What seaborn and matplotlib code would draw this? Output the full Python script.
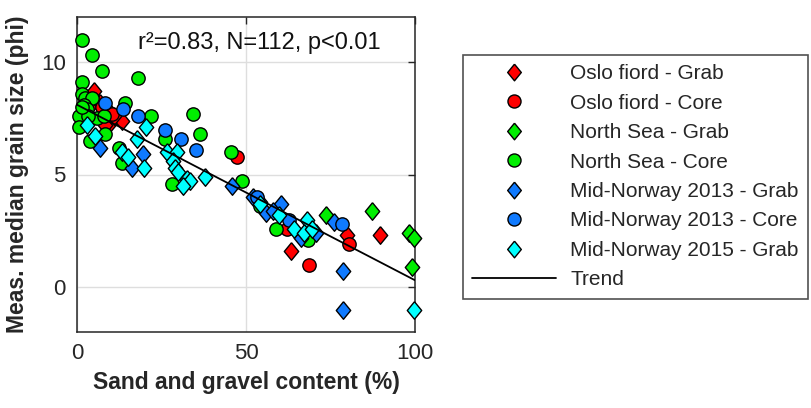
import numpy as np
import pandas as pd
import matplotlib
matplotlib.use("Agg")
import matplotlib.pyplot as plt
from matplotlib.lines import Line2D
import seaborn as sns

# ---- data ----
oslo_grab_x = [5.0, 6.8, 8.8, 9.7, 8.3, 13.2, 11.0, 3.5, 63.4, 80.0, 89.7]
oslo_grab_y = [8.7, 8.2, 7.9, 7.3, 7.2, 7.4, 7.6, 8.0, 1.6, 2.3, 2.3]
oslo_core_x = [7.5, 10.5, 47.2, 62.2, 68.7, 80.5]
oslo_core_y = [8.0, 7.7, 5.8, 2.6, 1.0, 1.9]
ns_grab_x = [73.7, 87.3, 98.2, 99.7, 99.1]
ns_grab_y = [3.2, 3.4, 2.4, 2.2, 0.9]
ns_core_x = [1.4, 4.4, 7.3, 18.0, 1.5, 1.4, 2.4, 4.4, 2.0, 2.9, 0.5, 3.8, 5.9, 0.5,
             8.3, 14.1, 22.0, 34.2, 36.3, 26.0, 12.4, 13.3, 28.0, 45.7, 48.7, 54.0,
             59.0, 68.4, 3.2, 1.5, 3.8, 8.0]
ns_core_y = [11.0, 10.3, 9.6, 9.3, 9.1, 8.6, 8.4, 8.4, 8.1, 7.9, 7.6, 7.5, 7.5, 7.1,
             6.8, 8.2, 7.6, 7.7, 6.8, 6.6, 6.2, 5.5, 4.6, 6.0, 4.7, 3.6,
             2.6, 2.1, 7.6, 8.0, 6.5, 7.6]
mn13_grab_x = [6.8, 19.5, 16.2, 46.0, 52.0, 60.5, 56.0, 66.4, 70.8, 76.0, 78.8, 78.8, 54.0, 58.0]
mn13_grab_y = [6.2, 5.9, 5.3, 4.5, 4.0, 3.7, 3.3, 2.2, 2.4, 2.9, 0.7, -1.0, 3.8, 3.4]
mn13_core_x = [8.3, 13.6, 18.0, 26.0, 30.7, 35.1, 53.4, 62.8, 78.5]
mn13_core_y = [8.2, 7.9, 7.6, 7.0, 6.6, 6.1, 4.0, 3.0, 2.8]
mn15_grab_x = [2.9, 5.3, 20.4, 17.7, 13.3, 15.0, 19.8, 26.5, 29.5, 28.3, 28.9, 29.8,
               32.4, 33.3, 31.3, 37.8, 54.0, 59.9, 64.3, 68.1, 67.3, 69.6, 99.7]
mn15_grab_y = [7.2, 6.7, 7.1, 6.6, 6.0, 5.8, 5.3, 6.0, 6.0, 5.6, 5.3, 5.1,
               4.8, 4.7, 4.5, 4.9, 3.7, 3.2, 2.6, 3.0, 2.4, 2.6, -1.0]
trend_x = [0, 100]
trend_y = [8.1, 0.3]

labels = ["Oslo fiord - Grab", "Oslo fiord - Core", "North Sea - Grab", "North Sea - Core",
          "Mid-Norway 2013 - Grab", "Mid-Norway 2013 - Core", "Mid-Norway 2015 - Grab"]
xs = [oslo_grab_x, oslo_core_x, ns_grab_x, ns_core_x, mn13_grab_x, mn13_core_x, mn15_grab_x]
ys = [oslo_grab_y, oslo_core_y, ns_grab_y, ns_core_y, mn13_grab_y, mn13_core_y, mn15_grab_y]
colors = ["#FF0000", "#FF0000", "#00EE00", "#00EE00", "#0F7AFF", "#0F7AFF", "#00FFFF"]
kinds = ["grab", "core", "grab", "core", "grab", "core", "grab"]

# ---- style ----
sns.set_theme(style="white")
plt.rcParams['font.family'] = ['Liberation Sans', 'DejaVu Sans']

diamond = [(0, 1), (0.82, 0), (0, -1), (-0.82, 0), (0, 1)]

fig = plt.figure(figsize=(8.11, 4.08), dpi=100)
ax = fig.add_axes([77 / 811, 76 / 408, 338 / 811, 315 / 408])

handles = []
for x, y, c, k, lab in zip(xs, ys, colors, kinds, labels):
    df = pd.DataFrame({"x": x, "y": y})
    mk = diamond if k == "grab" else "o"
    sz = 160 if k == "grab" else 92
    sns.scatterplot(data=df, x="x", y="y", ax=ax, color=c, marker=mk, s=sz,
                    edgecolor="black", linewidth=1.0, clip_on=False, zorder=3, legend=False)
    handles.append(Line2D([], [], linestyle="none", marker=mk,
                          markersize=(12.0 if k == "grab" else 9.4),
                          markerfacecolor=c, markeredgecolor="black", markeredgewidth=1.0))

sns.lineplot(x=trend_x, y=trend_y, ax=ax, color="black", linewidth=1.3, zorder=4)
handles.append(Line2D([], [], color="black", linewidth=1.3))

ax.set_xlim(0, 100)
ax.set_ylim(-2, 12)
ax.set_xticks([0, 50, 100])
ax.set_yticks([0, 5, 10])
ax.grid(True, color="#dedede", linewidth=1.0)
ax.set_axisbelow(True)
ax.tick_params(direction="in", length=5, width=1, top=True, right=True,
               labelsize=16, colors="#262626", pad=8)
for sp in ax.spines.values():
    sp.set_color("#262626")
    sp.set_linewidth(1.1)

ax.set_xlabel("Sand and gravel content (%)", fontsize=16.5, fontweight="bold", color="#262626", labelpad=5)
ax.set_ylabel("Meas. median grain size (phi)", fontsize=16.5, fontweight="bold", color="#262626", labelpad=9)

ax.text(53.8, 10.6, "r²=0.83, N=112, p<0.01", ha="center", va="baseline", fontsize=17, color="#111111")

leg = fig.legend(handles, labels + ["Trend"], loc="upper left",
                 bbox_to_anchor=(463 / 811, 1 - 55 / 408), fontsize=15,
                 frameon=True, fancybox=False, edgecolor="#262626",
                 handlelength=4.0, handletextpad=0.7, labelspacing=0.5,
                 borderpad=0.45, borderaxespad=0)
leg.get_frame().set_linewidth(1.2)

fig.savefig("out.png", dpi=100)
